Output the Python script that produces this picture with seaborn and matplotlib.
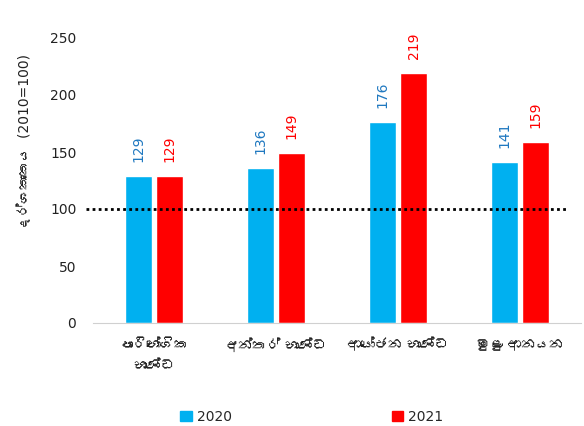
import matplotlib
matplotlib.use("Agg")
import matplotlib.pyplot as plt
from matplotlib import font_manager
from matplotlib.ft2font import FT2Font
import seaborn as sns
import pandas as pd

# Dane
kategorie = ["පාරිභෝගික\nභාණ්ඩ", "අන්තර් භාණ්ඩ", "ආයෝජන භාණ්ඩ", "මුළු ආනයන"]
lata = ["2020", "2021"]
wartosci_2020 = [129, 136, 176, 141]
wartosci_2021 = [129, 149, 219, 159]
poziom_bazowy = 100
ylabel = "දර්ශකාංකය  (2010=100)"

kolory_slupkow = {"2020": "#00B0F0", "2021": "#FF0000"}
kolory_etykiet = {"2020": "#1F78C0", "2021": "#FF0000"}

df = pd.DataFrame({
    "kategoria": kategorie * 2,
    "rok": [lata[0]] * 4 + [lata[1]] * 4,
    "wartosc": wartosci_2020 + wartosci_2021,
})

# Szukanie zainstalowanej czcionki z glifami syngaleskimi
rodziny_syngaleskie = []
for f in font_manager.fontManager.ttflist:
    try:
        if 0x0D85 in FT2Font(f.fname).get_charmap() and f.name not in rodziny_syngaleskie:
            rodziny_syngaleskie.append(f.name)
    except Exception:
        pass

sns.set_style("white")
plt.rcParams["font.family"] = ["DejaVu Sans"] + rodziny_syngaleskie[:1]

fig = plt.figure(figsize=(5.84, 4.26), dpi=100)
ax = fig.add_axes([93 / 584, 103 / 426, 488 / 584, 285 / 426])

sns.barplot(data=df, x="kategoria", y="wartosc", hue="rok", palette=kolory_slupkow,
            width=0.51, gap=0.14, ax=ax, legend=False, saturation=1)

# Etykiety wartości nad słupkami
for kontener, rok in zip(ax.containers, lata):
    ax.bar_label(kontener, padding=10, rotation=90, color=kolory_etykiet[rok], fontsize=10)

# Linia bazowa 2010=100
ax.axhline(poziom_bazowy, xmin=-0.014, xmax=0.971, color="black", linestyle=(0, (1, 1.2)),
           linewidth=2, clip_on=False)

ax.set_ylim(0, 250)
ax.set_yticks(range(0, 251, 50))
ax.set_xlabel("")
ax.set_ylabel(ylabel, fontsize=10, color="#222222")
ax.yaxis.set_label_coords(-0.125, 0.635)
ax.tick_params(axis="both", length=0, labelsize=10, colors="#222222")
ax.tick_params(axis="y", pad=12)
ax.tick_params(axis="x", pad=11)
for etykieta in ax.get_xticklabels():
    etykieta.set_linespacing(1.6)
for strona in ["left", "right", "top"]:
    ax.spines[strona].set_visible(False)
ax.spines["bottom"].set_color("#D0D0D0")

uchwyty = [plt.Rectangle((0, 0), 1, 1, color=kolory_slupkow[r]) for r in lata]
fig.legend(uchwyty, lata, loc="center", bbox_to_anchor=(312 / 584, 9 / 426), ncol=2,
           frameon=False, fontsize=10, handlelength=0.8, handleheight=0.8,
           handletextpad=0.4, columnspacing=11.5)

fig.savefig("out.png", dpi=100)
